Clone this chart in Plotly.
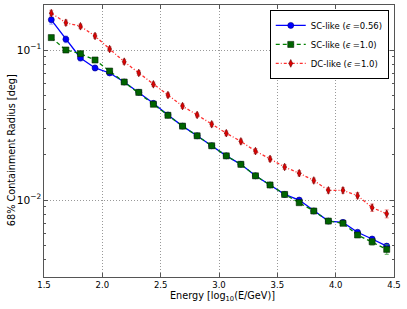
import plotly.graph_objects as go

energy = [1.5625 + 0.125 * i for i in range(24)]

sc056 = [0.159, 0.118, 0.0885, 0.0759, 0.0703, 0.0612, 0.0522, 0.0441, 0.0369, 0.0311,
         0.0268, 0.0230, 0.0197, 0.0173, 0.0145, 0.0126, 0.0109, 0.0100, 0.00845, 0.00724,
         0.0071, 0.0061, 0.0055, 0.00493]
sc056_err = [0.010, 0.006, 0.004, 0.003, 0.0025, 0.002, 0.0016, 0.0013, 0.0010, 0.0008,
             0.0007, 0.0006, 0.0005, 0.0004, 0.00035, 0.0003, 0.00025, 0.00022, 0.0002, 0.00018,
             0.00018, 0.00017, 0.00017, 0.00018]

sc10 = [0.121, 0.100, 0.0945, 0.0858, 0.0724, 0.0612, 0.0522, 0.0435, 0.0367, 0.0311,
        0.0268, 0.0230, 0.0197, 0.0173, 0.0145, 0.0126, 0.0109, 0.0096, 0.00845, 0.00724,
        0.0070, 0.00585, 0.00527, 0.00469]
sc10_err = [0.003, 0.0025, 0.002, 0.0018, 0.0015, 0.0012, 0.001, 0.0009, 0.0008, 0.0007,
            0.0006, 0.0005, 0.0004, 0.0004, 0.0003, 0.0003, 0.00025, 0.00025, 0.0002, 0.0002,
            0.0002, 0.0002, 0.00025, 0.00035]

dc10 = [0.176, 0.152, 0.144, 0.124, 0.1015, 0.0836, 0.0703, 0.0591, 0.0501, 0.0423,
        0.0369, 0.0320, 0.0279, 0.0246, 0.0212, 0.0188, 0.0166, 0.0151, 0.0135, 0.0116,
        0.0116, 0.0107, 0.0089, 0.0081]
dc10_err = [0.008, 0.006, 0.005, 0.0045, 0.0035, 0.003, 0.0025, 0.002, 0.0017, 0.0015,
            0.0012, 0.0011, 0.001, 0.0009, 0.0008, 0.0007, 0.0006, 0.0006, 0.0005, 0.0005,
            0.0005, 0.0005, 0.0005, 0.0005]

names = ["SC-like (<i>ϵ</i>\u2009=0.56)", "SC-like (<i>ϵ</i>\u2009=1.0)", "DC-like (<i>ϵ</i>\u2009=1.0)"]

fig = go.Figure()
fig.add_trace(go.Scatter(
    x=energy, y=sc056, name=names[0], mode="lines+markers",
    line=dict(color="#0000ff", width=1.3, dash="solid"),
    marker=dict(symbol="circle", size=6, color="#0000ff", line=dict(color="#000080", width=0.6)),
    error_y=dict(type="data", array=sc056_err, color="rgba(100,120,255,0.6)", thickness=1.2, width=2),
))
fig.add_trace(go.Scatter(
    x=energy, y=sc10, name=names[1], mode="lines+markers",
    line=dict(color="#008000", width=1.3, dash="4px,3px"),
    marker=dict(symbol="square", size=6, color="#006400", line=dict(color="#002000", width=0.6)),
    error_y=dict(type="data", array=sc10_err, color="rgba(60,160,60,0.7)", thickness=1.2, width=2),
))
fig.add_trace(go.Scatter(
    x=energy, y=dc10, name=names[2], mode="lines+markers",
    line=dict(color="#ff3030", width=1.3, dash="3px,2px,1px,2px"),
    marker=dict(symbol="diamond-tall", size=5.5, color="#e00000", line=dict(color="#600000", width=0.6)),
    error_y=dict(type="data", array=dc10_err, color="rgba(255,120,120,0.7)", thickness=1.2, width=2),
))

axis_common = dict(
    showline=True, linecolor="#555555", linewidth=1.3, mirror="ticks",
    ticks="inside", ticklen=4, tickcolor="#555555", automargin=False,
    showgrid=True, gridcolor="#999999", griddash="1px,2px", gridwidth=1,
    zeroline=False, tickfont=dict(family="DejaVu Sans", size=8.5, color="#000000"),
)

fig.update_xaxes(
    range=[1.5, 4.5], tickmode="array", tickvals=[1.5, 2.0, 2.5, 3.0, 3.5, 4.0, 4.5],
    ticktext=["1.5", "2.0", "2.5", "3.0", "3.5", "4.0", "4.5"],
    **axis_common,
)
fig.update_yaxes(
    type="log", range=[-2.513, -0.7], dtick=1, exponentformat="power",
    minor=dict(ticks="inside", ticklen=2, dtick="D1", tickcolor="#555555", showgrid=False),
    **axis_common,
)

fig.add_annotation(
    text="Energy [log<sub>10</sub>(E/GeV)]", xref="paper", yref="paper",
    x=0.51, y=-0.07, xanchor="center", yanchor="middle", showarrow=False,
    font=dict(family="DejaVu Sans", size=9.7, color="#000000"),
)
fig.add_annotation(
    text="68% Containment Radius [deg]", xref="paper", yref="paper",
    x=-0.091, y=0.467, xanchor="center", yanchor="middle", showarrow=False, textangle=-90,
    font=dict(family="DejaVu Sans", size=9.7, color="#000000"),
)

fig.update_layout(
    width=407, height=309,
    margin=dict(l=44, r=13, t=5, b=32, autoexpand=False),
    paper_bgcolor="white", plot_bgcolor="white",
    font=dict(family="DejaVu Sans", size=8.5, color="#000000"),
    legend=dict(
        x=0.985, y=0.982, xanchor="right", yanchor="top",
        bgcolor="white", bordercolor="#000000", borderwidth=1,
        font=dict(family="DejaVu Sans", size=8.5), tracegroupgap=0, itemwidth=30,
    ),
    showlegend=True,
)

fig.write_html("out.html", post_script="document.body.style.margin='0';",
               config={"displayModeBar": False})
